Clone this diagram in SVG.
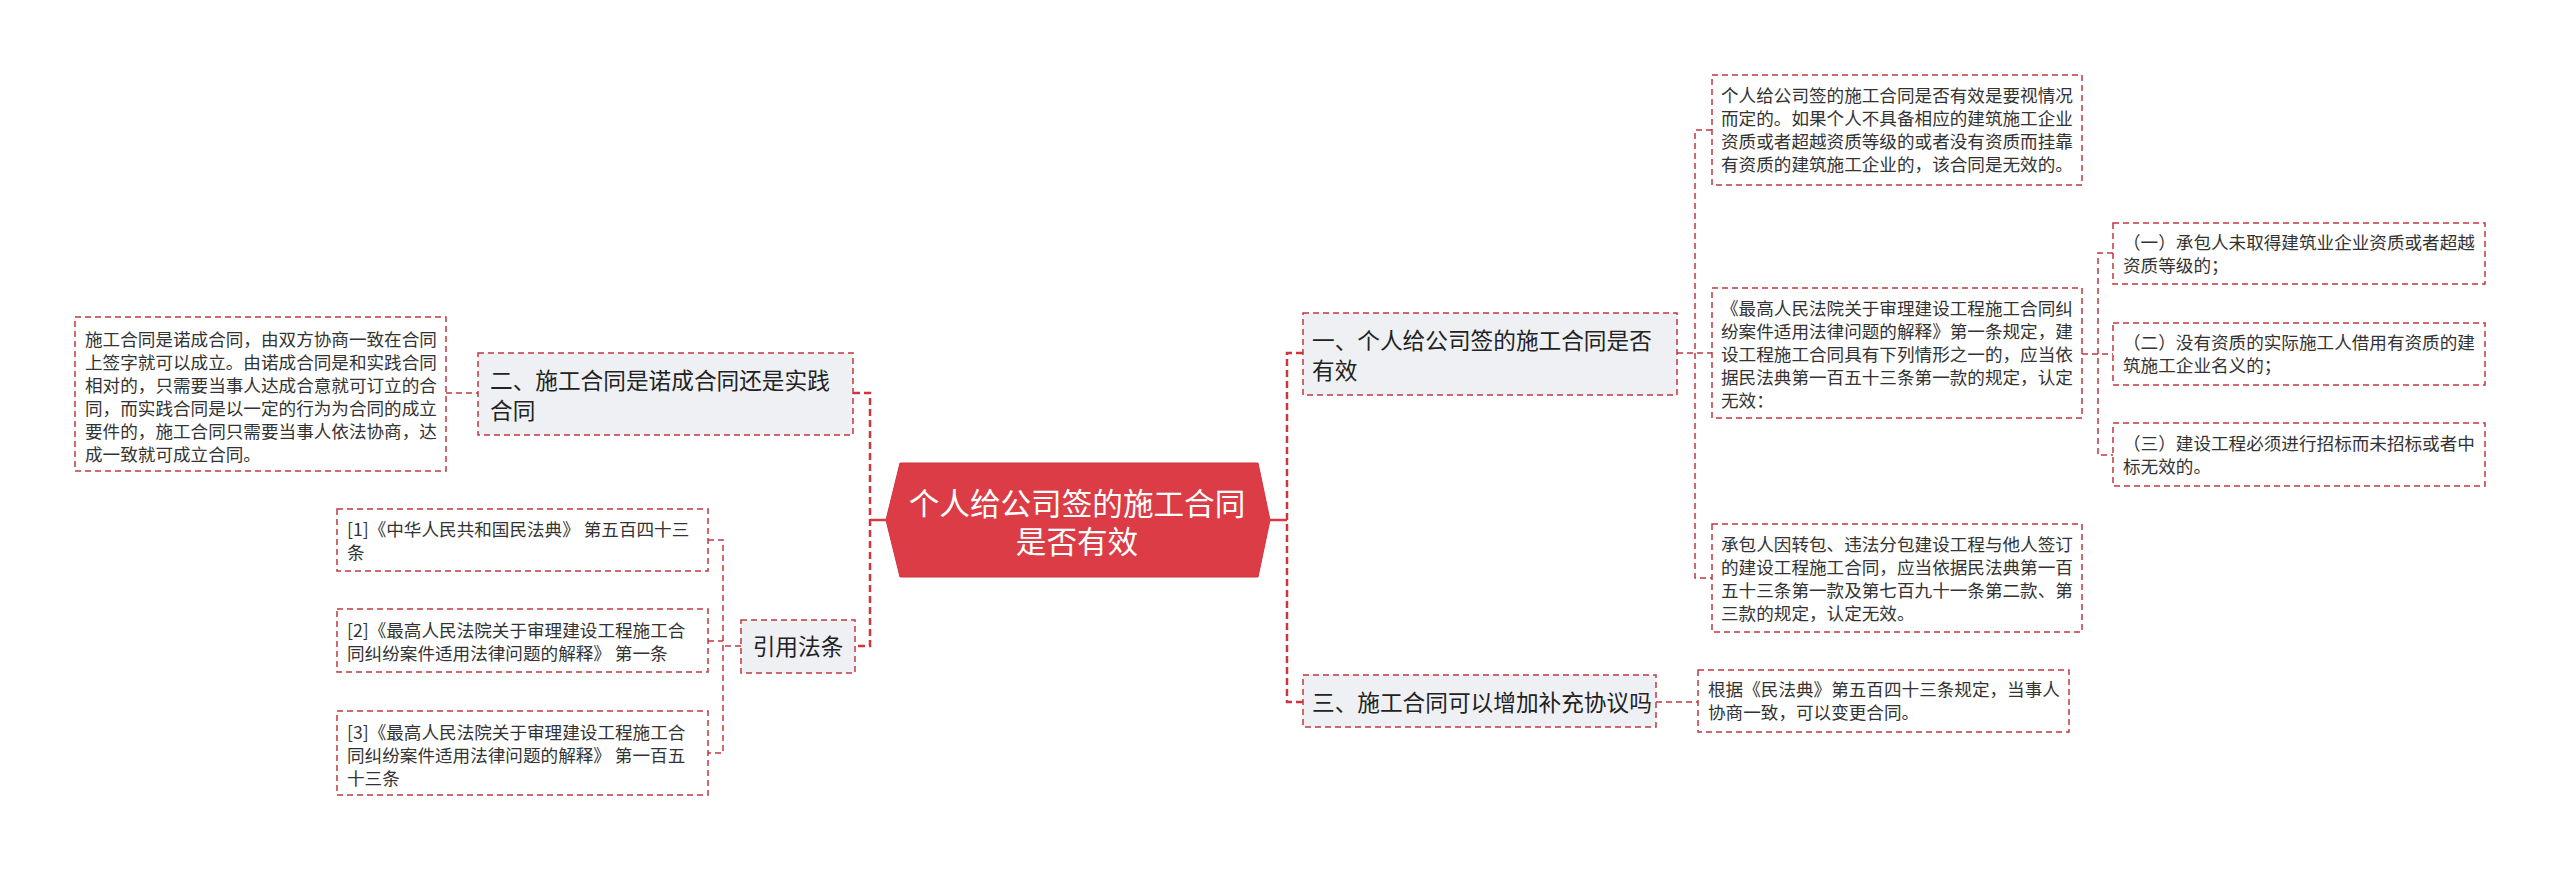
<svg xmlns="http://www.w3.org/2000/svg" width="2560" height="871" viewBox="0 0 2560 871">
<style>
.box{fill:#ffffff;stroke:#c0393f;stroke-width:1.5;stroke-dasharray:6 4}
.br{fill:#eef0f4;stroke:#c0393f;stroke-width:1.5;stroke-dasharray:6 4}
.c{fill:none;stroke:#c0393f;stroke-width:1.5;stroke-dasharray:6 4}
.c2{fill:none;stroke:#d0353d;stroke-width:2.5;stroke-dasharray:7 4}
.cs{fill:none;stroke:#d63a43;stroke-width:2.5}
text{font-family:"Noto Sans CJK SC","Microsoft YaHei",sans-serif}
.tl{font-size:17.6px;fill:#333333}
.tb{font-size:22.67px;fill:#222222}
.tt{font-size:30.6px;fill:#ffffff}
</style>
<rect width="2560" height="871" fill="#ffffff"/>
<g id="connectors">
<path class="c" d="M446,393 H478"/>
<path class="c2" d="M853,393 H870 V646 H855"/>
<path class="cs" d="M870,520 H886"/>
<path class="c" d="M741,646 H723"/>
<path class="c" d="M708,540 H723 V753 H708 M708,641 H723"/>
<path class="cs" d="M1270,520 H1287"/>
<path class="c2" d="M1303,353 H1287 V702 H1303"/>
<path class="c" d="M1677,353 H1712"/>
<path class="c" d="M1712,130 H1695 V578 H1712"/>
<path class="c" d="M2082,354 H2113"/>
<path class="c" d="M2113,253 H2098 V455 H2113"/>
<path class="c" d="M1656,702 H1698"/>
</g>
<g id="root">
<polygon points="886,520 900,463 1258,463 1270,520 1258,577 900,577" fill="#dc3c46" stroke="#d2343e" stroke-width="1"/>
<text class="tt" text-anchor="middle"><tspan x="1077" y="515">个人给公司签的施工合同</tspan><tspan x="1077" y="553">是否有效</tspan></text>
</g>
<g id="b2">
<rect class="br" x="478" y="353" width="375" height="82"/>
<text class="tb" x="490" y="389">二、施工合同是诺成合同还是实践</text>
<text class="tb" x="490" y="419">合同</text>
</g>
<g id="l1">
<rect class="box" x="75" y="317" width="371" height="154"/>
<g class="tl">
<text x="85" y="346">施工合同是诺成合同，由双方协商一致在合同</text>
<text x="85" y="369">上签字就可以成立。由诺成合同是和实践合同</text>
<text x="85" y="392">相对的，只需要当事人达成合意就可订立的合</text>
<text x="85" y="415">同，而实践合同是以一定的行为为合同的成立</text>
<text x="85" y="438">要件的，施工合同只需要当事人依法协商，达</text>
<text x="85" y="461">成一致就可成立合同。</text>
</g>
</g>
<g id="refs">
<rect class="br" x="741" y="620" width="114" height="53"/>
<text class="tb" x="798" y="655" text-anchor="middle">引用法条</text>
</g>
<g id="ref1">
<rect class="box" x="337" y="509" width="371" height="62"/>
<text class="tl" x="347" y="536">[1]《中华人民共和国民法典》 第五百四十三</text>
<text class="tl" x="347" y="559">条</text>
</g>
<g id="ref2">
<rect class="box" x="337" y="609" width="371" height="63"/>
<text class="tl" x="347" y="637">[2]《最高人民法院关于审理建设工程施工合</text>
<text class="tl" x="347" y="660">同纠纷案件适用法律问题的解释》 第一条</text>
</g>
<g id="ref3">
<rect class="box" x="337" y="711" width="371" height="84"/>
<text class="tl" x="347" y="739">[3]《最高人民法院关于审理建设工程施工合</text>
<text class="tl" x="347" y="762">同纠纷案件适用法律问题的解释》 第一百五</text>
<text class="tl" x="347" y="785">十三条</text>
</g>
<g id="b1">
<rect class="br" x="1303" y="313" width="374" height="82"/>
<text class="tb" x="1312" y="349">一、个人给公司签的施工合同是否</text>
<text class="tb" x="1312" y="379">有效</text>
</g>
<g id="r1">
<rect class="box" x="1712" y="75" width="370" height="110"/>
<g class="tl">
<text x="1721" y="102">个人给公司签的施工合同是否有效是要视情况</text>
<text x="1721" y="125">而定的。如果个人不具备相应的建筑施工企业</text>
<text x="1721" y="148">资质或者超越资质等级的或者没有资质而挂靠</text>
<text x="1721" y="171">有资质的建筑施工企业的，该合同是无效的。</text>
</g>
</g>
<g id="r2">
<rect class="box" x="1712" y="288" width="370" height="130"/>
<g class="tl">
<text x="1721" y="315">《最高人民法院关于审理建设工程施工合同纠</text>
<text x="1721" y="338">纷案件适用法律问题的解释》第一条规定，建</text>
<text x="1721" y="361">设工程施工合同具有下列情形之一的，应当依</text>
<text x="1721" y="384">据民法典第一百五十三条第一款的规定，认定</text>
<text x="1721" y="407">无效：</text>
</g>
</g>
<g id="r3">
<rect class="box" x="1712" y="524" width="370" height="108"/>
<g class="tl">
<text x="1721" y="551">承包人因转包、违法分包建设工程与他人签订</text>
<text x="1721" y="574">的建设工程施工合同，应当依据民法典第一百</text>
<text x="1721" y="597">五十三条第一款及第七百九十一条第二款、第</text>
<text x="1721" y="620">三款的规定，认定无效。</text>
</g>
</g>
<g id="s1">
<rect class="box" x="2113" y="223" width="372" height="61"/>
<text class="tl" x="2123" y="249">（一）承包人未取得建筑业企业资质或者超越</text>
<text class="tl" x="2123" y="272">资质等级的；</text>
</g>
<g id="s2">
<rect class="box" x="2113" y="323" width="372" height="62"/>
<text class="tl" x="2123" y="349">（二）没有资质的实际施工人借用有资质的建</text>
<text class="tl" x="2123" y="372">筑施工企业名义的；</text>
</g>
<g id="s3">
<rect class="box" x="2113" y="423" width="372" height="63"/>
<text class="tl" x="2123" y="450">（三）建设工程必须进行招标而未招标或者中</text>
<text class="tl" x="2123" y="473">标无效的。</text>
</g>
<g id="b3">
<rect class="br" x="1303" y="675" width="353" height="52"/>
<text class="tb" x="1312" y="711">三、施工合同可以增加补充协议吗</text>
</g>
<g id="r5">
<rect class="box" x="1698" y="670" width="371" height="62"/>
<text class="tl" x="1708" y="696">根据《民法典》第五百四十三条规定，当事人</text>
<text class="tl" x="1708" y="719">协商一致，可以变更合同。</text>
</g>
</svg>
